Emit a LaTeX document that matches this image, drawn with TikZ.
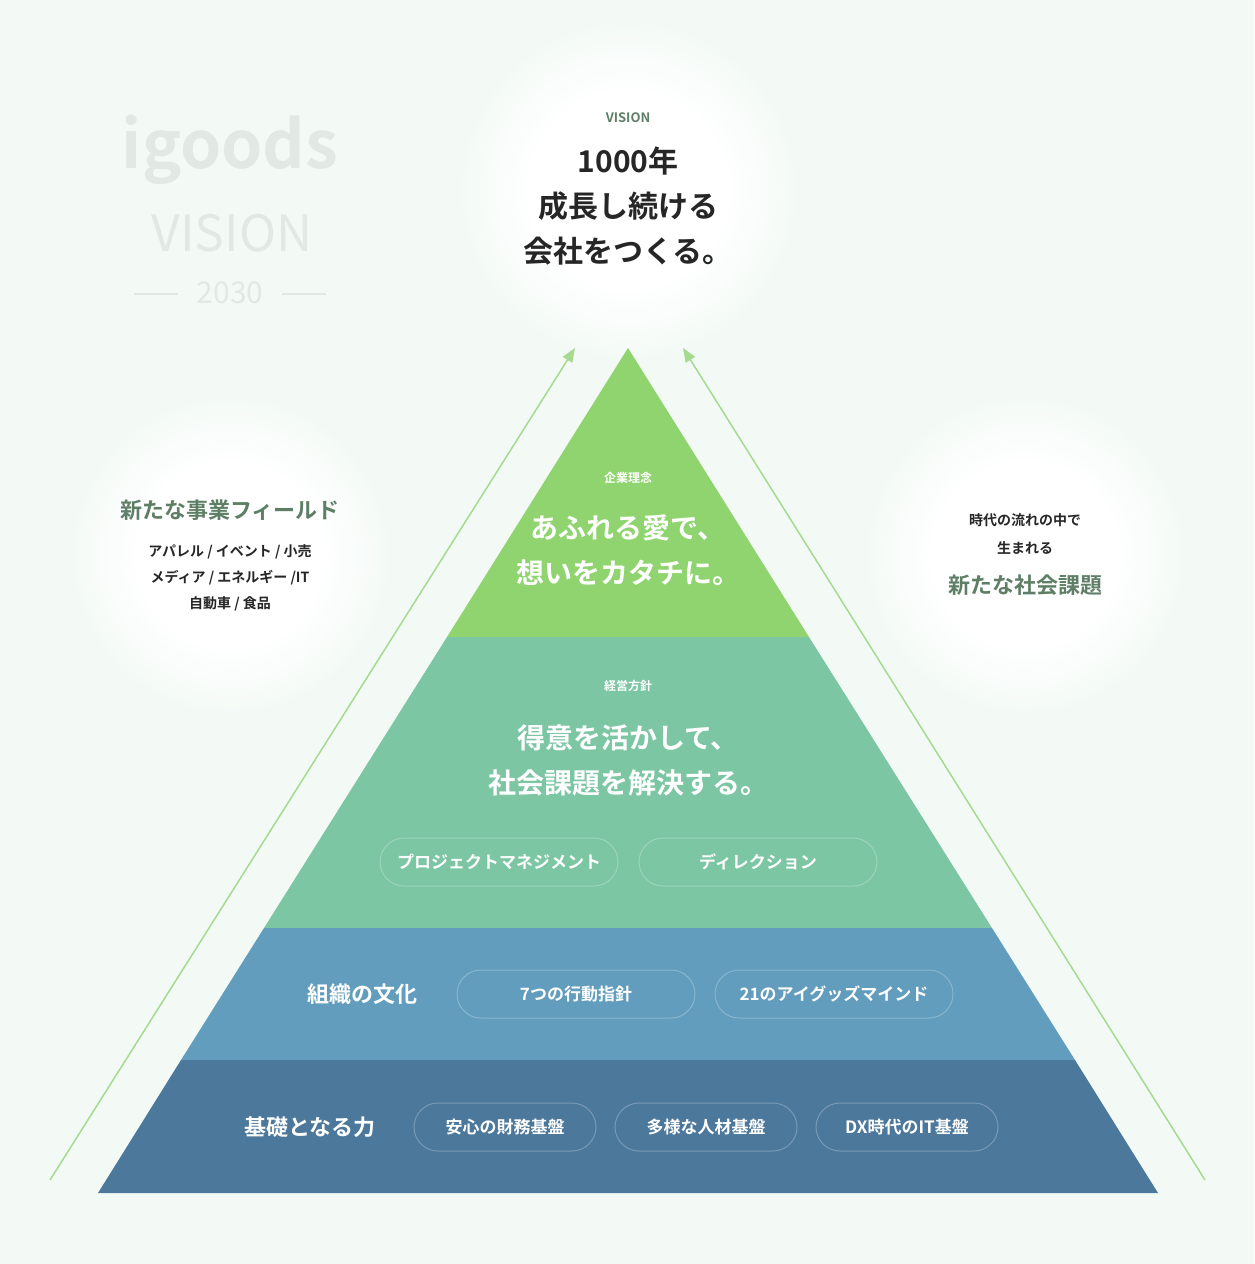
\documentclass[tikz,border=0pt]{standalone}
\usepackage{fontspec}
\setmainfont{Noto Sans CJK JP}
\newfontfamily\jpb{Noto Sans CJK JP Bold}
\usetikzlibrary{arrows.meta}
\definecolor{bg}{HTML}{F3FAF6}
\definecolor{lay1}{HTML}{8FD46E}
\definecolor{lay2}{HTML}{7CC6A4}
\definecolor{lay3}{HTML}{629DBD}
\definecolor{lay4}{HTML}{4C789C}
\definecolor{arr}{HTML}{A6DB8F}
\definecolor{logo}{HTML}{E2E9E5}
\definecolor{gtxt}{HTML}{5E7F66}
\pgfdeclareradialshading{glowsh}{\pgfpoint{0cm}{0cm}}{color(0bp)=(white);color(14bp)=(white);color(25bp)=(bg);color(50bp)=(bg)}
\begin{document}
\begin{tikzpicture}[x=1pt,y=-1pt,
  wt/.style={text=white,font=\jpb,align=center},
  pill/.style={draw=white,draw opacity=0.25,line width=1pt,rounded corners=24pt,minimum width=238pt,minimum height=48pt,text=white,font=\jpb\fontsize{17}{20}\selectfont},
  pillb/.style={pill,minimum width=182pt},
  glow/.style={shading=glowsh}]
\fill[bg] (0,0) rectangle (1254,1264);
\useasboundingbox (0,0) rectangle (1254,1264);
% glows
\shade[glow] (628,190) circle (170);
\shade[glow] (230,555) circle (160);
\shade[glow] (1025,555) circle (160);
% logo
\node[text=logo,font=\jpb\fontsize{66}{66}\selectfont] (logo) at (230,150) {igoods};
\node[text=logo,font=\fontsize{50}{50}\selectfont] (lv) at (232,233) {VISION};
\node[text=logo,font=\fontsize{30}{30}\selectfont] (ly) at (230,293) {2030};
\draw[logo,line width=1.5pt] (134,294) -- (178,294) (282,294) -- (326,294);
% arrows
\coordinate (la) at (50,1180); \coordinate (lb) at (575,348);
\coordinate (ra) at (1205,1180); \coordinate (rb) at (683,348);
\draw[arr,line width=1.5pt,-{Triangle[length=14pt,width=11pt]}] (la) -- (lb);
\draw[arr,line width=1.5pt,-{Triangle[length=14pt,width=11pt]}] (ra) -- (rb);
% pyramid
\fill[lay1] (628,348) -- (809,637) -- (447,637) -- cycle;
\fill[lay2] (447,637) -- (809,637) -- (992,928) -- (264,928) -- cycle;
\fill[lay3] (264,928) -- (992,928) -- (1075,1060) -- (181,1060) -- cycle;
\fill[lay4] (181,1060) -- (1075,1060) -- (1158,1193) -- (98,1193) -- cycle;
% top vision
\node[text=gtxt,font=\jpb\fontsize{13}{13}\selectfont] (vis) at (628,118) {VISION};
\node[font=\jpb\fontsize{30}{45}\selectfont,align=center,text=black!85] (vt) at (628,206) {1000年\\成長し続ける\\会社をつくる。};
% left
\node[text=gtxt,font=\jpb\fontsize{22}{22}\selectfont] (lf) at (230,510) {新たな事業フィールド};
\node[font=\jpb\fontsize{14}{26}\selectfont,align=center,text=black!85] (ll) at (230,578) {アパレル / イベント / 小売\\メディア / エネルギー /IT\\自動車 / 食品};
% right
\node[font=\jpb\fontsize{14}{28}\selectfont,align=center,text=black!85] (rt) at (1025,534) {時代の流れの中で\\生まれる};
\node[text=gtxt,font=\jpb\fontsize{22}{22}\selectfont] (rs) at (1025,585) {新たな社会課題};
% layer1
\node[wt,font=\jpb\fontsize{12}{12}\selectfont] (k1) at (628,478) {企業理念};
\node[wt,font=\jpb\fontsize{28}{45}\selectfont] (m1) at (628,550) {あふれる愛で、\\想いをカタチに。};
% layer2
\node[wt,font=\jpb\fontsize{12}{12}\selectfont] (k2) at (628,686) {経営方針};
\node[wt,font=\jpb\fontsize{28}{45}\selectfont] (m2) at (628,760) {得意を活かして、\\社会課題を解決する。};
\node[pill] (p1) at (499,862) {プロジェクトマネジメント};
\node[pill] (p2) at (758,862) {ディレクション};
% layer3
\node[wt,font=\jpb\fontsize{22}{22}\selectfont] (t3) at (362,994) {組織の文化};
\node[pill] (p3) at (576,994) {7つの行動指針};
\node[pill] (p4) at (834,994) {21のアイグッズマインド};
% layer4
\node[wt,font=\jpb\fontsize{22}{22}\selectfont] (t4) at (310,1127) {基礎となる力};
\node[pillb] (p5) at (505,1127) {安心の財務基盤};
\node[pillb] (p6) at (706,1127) {多様な人材基盤};
\node[pillb] (p7) at (907,1127) {DX時代のIT基盤};
\end{tikzpicture}
\end{document}
